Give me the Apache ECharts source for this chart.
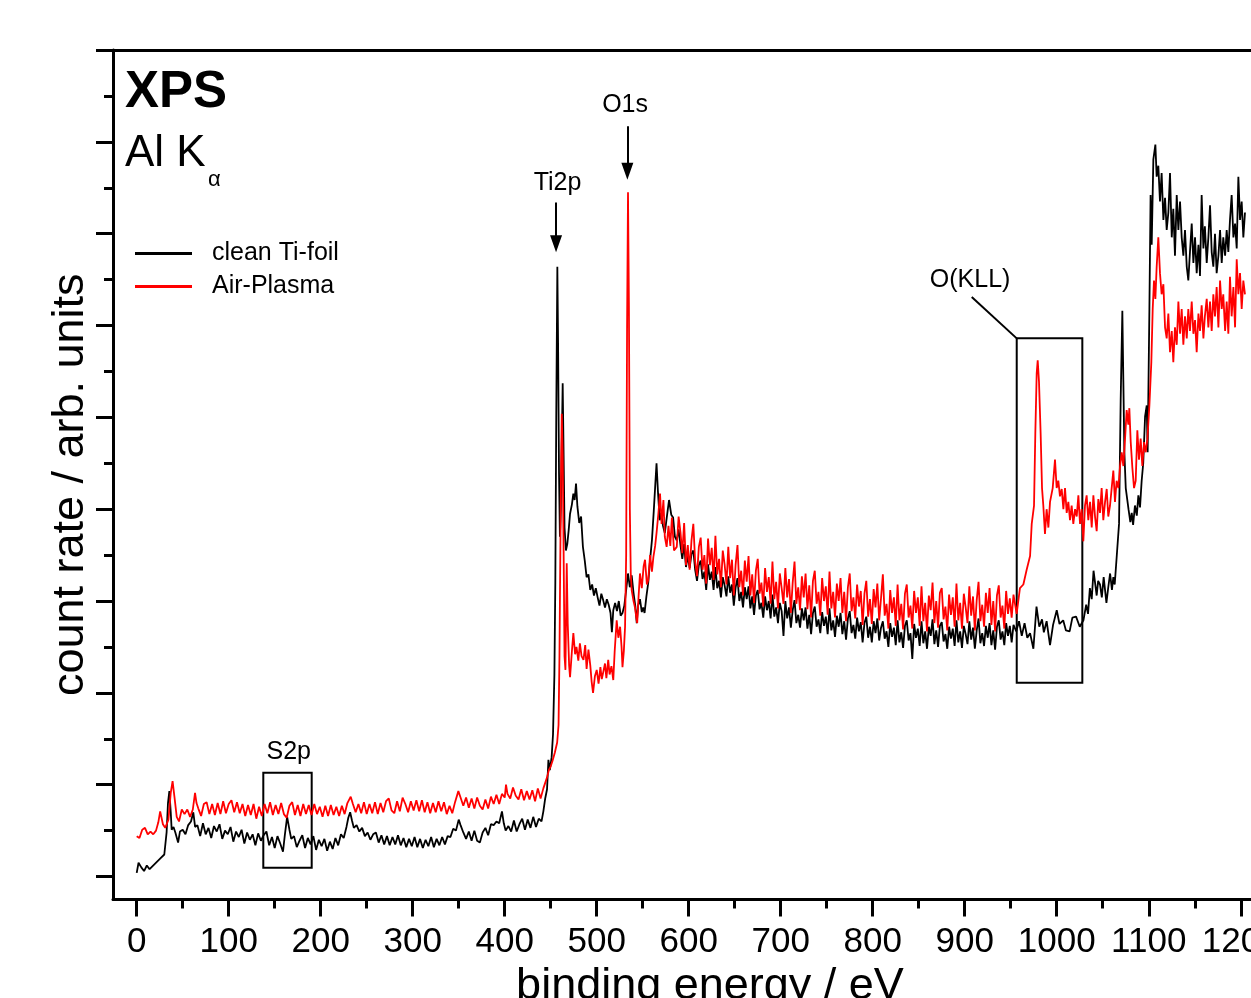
<!DOCTYPE html>
<html><head><meta charset="utf-8">
<script src="https://cdn.jsdelivr.net/npm/echarts@6/dist/echarts.min.js"></script>
<style>html,body{margin:0;padding:0;background:#fff}#c{width:1251px;height:998px}</style>
</head><body><div id="c"></div>
<script>
// ---- data (binding energy eV, count rate arb. units) ----
const seriesNames = ['clean Ti-foil', 'Air-Plasma'];
const cleanTiFoil = [[0,0.4],[2,1.5],[5,1.0],[8,0.6],[11,1.2],[14,0.8],[17,1.1],[20,1.4],[23,1.7],[26,2.0],[28,1.8],[30,2.4],[31,2.6],[32.5,4.8],[34,8.0],[35.5,9.3],[37,7.0],[38,5.1],[40,5.4],[42,4.8],[45,3.7],[47,4.9],[50,5.1],[53,4.6],[56,5.6],[59,6.0],[61.5,7.0],[63.5,5.4],[66,5.6],[69,4.4],[72,5.8],[75,4.6],[78,5.3],[81,4.2],[84,5.5],[87,4.9],[90,5.7],[93,4.1],[96,5.0],[99,4.6],[102,5.4],[105,3.8],[108,4.9],[111,4.3],[114,5.1],[117,3.6],[120,4.8],[123,4.0],[126,4.6],[129,3.4],[132,4.7],[135,3.9],[138,4.5],[141,4.9],[144,3.4],[147,4.3],[150,3.1],[153,4.4],[156,3.6],[159,2.7],[161,4.5],[163.5,6.5],[166,5.1],[168,4.1],[171,4.4],[174,3.2],[177,3.9],[180,4.5],[183,3.1],[186,4.2],[189,3.5],[192,4.4],[195,2.9],[198,4.0],[201,3.3],[204,4.1],[207,2.8],[210,3.8],[213,3.0],[216,4.2],[219,3.4],[222,4.6],[225,4.2],[228,5.4],[230,6.4],[232,7.0],[234,6.1],[236,5.3],[239,5.6],[242,4.9],[245,5.3],[248,4.4],[251,4.8],[254,4.0],[257,4.6],[260,4.8],[263,3.7],[266,4.5],[269,3.5],[272,4.4],[275,3.4],[278,4.3],[281,3.5],[284,4.5],[287,3.4],[290,4.2],[293,3.2],[296,4.1],[299,3.3],[302,4.3],[305,3.2],[308,4.1],[311,3.1],[314,4.0],[317,3.3],[320,4.3],[323,3.2],[326,4.1],[329,3.4],[332,4.3],[335,3.5],[338,4.4],[341,4.3],[344,5.2],[347,5.0],[350,6.2],[352,5.6],[355,4.8],[358,4.1],[361,4.9],[364,3.9],[367,5.0],[370,3.9],[373,3.7],[376,4.8],[379,5.3],[382,4.5],[385,5.7],[388,5.6],[391,6.0],[394,5.8],[397,7.1],[399,5.8],[401,5.0],[404,5.5],[407,4.9],[410,6.1],[413,4.9],[416,5.7],[419,6.3],[422,5.1],[425,6.2],[428,5.3],[431,6.5],[434,5.4],[437,6.3],[440,6.0],[442,7.1],[444,8.5],[446,9.5],[447.5,12.7],[449,11.6],[451,13.0],[452.5,15.5],[454,22],[455,32],[456,50],[457.2,66.4],[458,58],[459,44],[460,37],[461,40],[462,47],[463,53.7],[464,46],[465,38],[466.5,35.5],[468,36.2],[469.5,37.7],[471,39.5],[473,40.5],[474.6,41.7],[476,41.0],[477.5,42.8],[479,40.3],[481,38.5],[483,39.2],[485,35.9],[487,34.4],[489,32.6],[491,32.9],[493,31.2],[495,31.8],[497,30.6],[499,31.4],[501,30.4],[503,29.5],[505,30.8],[507,30.1],[509,29.3],[511,30.2],[513,29.6],[515,28.7],[516.5,26.6],[518,29.0],[520,29.8],[522,28.9],[524,30.0],[526,28.4],[528,28.7],[530,29.5],[532,31.2],[534,33.0],[536,31.5],[538,32.8],[540,30.9],[542,29.4],[543.5,27.6],[545,29.5],[547,30.2],[549,28.8],[550.5,29.3],[552,28.7],[554,30.5],[556,32.0],[558,34.5],[560,36.6],[562,39.8],[563.5,42.4],[565,45.0],[566.5,42.0],[568.5,38.8],[570,39.6],[572,38.2],[574,37.4],[576,39.0],[578.6,41.0],[581,39.4],[583,39.1],[585,37.0],[587,36.6],[589,37.8],[591,36.1],[593,34.6],[595,36.2],[597,33.7],[599,34.9],[601,33.6],[603,35.1],[605,35.5],[607,33.4],[609,32.2],[611,33.9],[613,34.4],[615,32.4],[617,33.2],[619,31.2],[621,34.0],[623,32.3],[625,33.2],[627,31.2],[629,33.7],[631,31.4],[633,32.2],[635,30.4],[637,32.6],[639,31.7],[641,30.5],[643,32.7],[645,30.9],[647,31.8],[649,29.5],[651,31.5],[653,32.5],[655,30.0],[657,31.0],[659,29.3],[661,31.5],[663,30.2],[665,31.6],[667,29.2],[669,30.5],[671,28.5],[673,30.6],[675,31.2],[677,29.1],[679,29.8],[681,28.2],[683,30.5],[685,29.0],[687,30.0],[689,28.1],[691,30.7],[693,28.3],[695,29.3],[697,27.6],[699,29.8],[701,28.9],[703,26.2],[705,30.0],[707,28.1],[709,29.3],[711,27.1],[713,29.0],[715,30.1],[717,27.6],[719,28.5],[721,27.1],[723,29.2],[725,27.9],[727,29.3],[729,27.0],[731,28.5],[733,26.4],[735,28.7],[737,29.4],[739,27.2],[741,28.0],[743,26.5],[745,28.8],[747,27.3],[749,28.3],[751,26.4],[753,29.2],[755,26.8],[757,27.9],[759,26.1],[761,28.4],[763,27.2],[765,28.7],[767,26.4],[769,27.8],[771,25.8],[773,28.1],[775,28.9],[777,26.5],[779,27.4],[781,25.9],[783,28.2],[785,26.7],[787,27.7],[789,25.5],[791,27.6],[793,28.3],[795,26.0],[797,27.2],[799,25.5],[801,27.8],[803,26.5],[805,28.1],[807,25.7],[809,27.1],[811,27.8],[813,25.9],[815,26.7],[817,25.0],[819,27.6],[821,26.1],[823,27.1],[825,25.2],[827,27.9],[829,25.5],[831,26.6],[833,24.9],[835,27.3],[837,27.9],[839,25.7],[841,26.5],[843,23.7],[845,27.5],[847,26.0],[849,27.0],[851,25.1],[853,27.8],[855,25.4],[857,26.7],[859,24.8],[861,27.2],[863,26.2],[865,28.0],[867,25.3],[869,26.8],[871,25.0],[873,27.3],[875,27.7],[877,25.6],[879,26.4],[881,24.8],[883,27.2],[885,25.9],[887,27.0],[889,25.1],[891,27.9],[893,25.5],[895,26.7],[897,24.9],[899,27.3],[901,26.4],[903,25.3],[905,27.8],[907,25.8],[909,27.1],[911,24.8],[913,26.8],[915,28.1],[917,25.4],[919,26.5],[921,25.1],[923,27.3],[925,26.0],[927,27.6],[929,25.2],[931,26.8],[933,24.7],[935,27.2],[937,27.9],[939,25.8],[941,26.7],[943,25.2],[945,27.6],[947,26.2],[949,27.3],[951,25.5],[953,27.4],[956,26.7],[959,27.8],[962,26.2],[965,27.6],[968,26.0],[971,26.5],[974.6,24.8],[978,29.4],[981,27.2],[984,28.0],[986,26.6],[989,27.8],[992.7,25.2],[996,27.4],[1000,29.0],[1003,27.5],[1007,27.9],[1010,26.8],[1014,26.7],[1017,28.2],[1021,28.3],[1025,27.2],[1029,27.9],[1032,29.6],[1034,28.6],[1036,31.4],[1038,30.2],[1040,33.3],[1043.4,30.6],[1045,32.2],[1047,31.8],[1049,30.4],[1051,32.6],[1054,29.8],[1056,31.5],[1058,33.0],[1060,31.2],[1061.5,32.6],[1063,31.8],[1065,34.6],[1067.7,38.4],[1069.5,52],[1071.3,61.6],[1072.4,53.9],[1073.5,46.2],[1075,42.3],[1078,40.0],[1080,38.6],[1081.5,39.6],[1083,38.3],[1085,40.4],[1087,39.3],[1088.7,41.5],[1090.5,40.2],[1092.3,43.1],[1094,45.0],[1096,50.1],[1097.8,51.3],[1098.8,46.2],[1100.7,61.8],[1102,74.2],[1103.2,68.8],[1105,78.1],[1107.2,79.7],[1108.6,76.2],[1110.4,77.4],[1112.2,73.5],[1114,76.6],[1115.9,71.5],[1117.7,73.9],[1119.5,70.4],[1121.3,72.3],[1123.1,76.6],[1125,69.6],[1126.7,72.7],[1128.5,67.6],[1130.4,74.2],[1132.2,70.4],[1134,73.5],[1135.8,69.6],[1137.6,67.6],[1139.4,70.4],[1141.3,66.4],[1143,64.9],[1144.8,68.0],[1146.7,71.1],[1148.5,66.8],[1150.3,69.6],[1152.1,65.7],[1154,68.8],[1155.7,65.4],[1157.5,74.2],[1159.4,68.4],[1161,70.8],[1163,66.8],[1164.8,69.6],[1166.6,73.1],[1168.4,68.0],[1170.2,66.4],[1172,70.0],[1173.8,65.7],[1175.7,67.6],[1177.5,70.4],[1179.3,66.8],[1181,69.6],[1183,67.6],[1184.7,70.4],[1186.5,68.0],[1188.3,71.5],[1190.1,74.2],[1192,69.6],[1193.8,71.1],[1195.6,68.4],[1197.4,76.2],[1199.2,71.5],[1201,73.5],[1202.8,69.6],[1204.6,72.3]];
const airPlasma = [[0,4.4],[3,4.2],[6,5.1],[9,5.3],[12,4.6],[15,4.9],[18,4.6],[21,5.0],[23.5,5.9],[25.5,7.1],[27,6.4],[28.5,5.7],[31,5.3],[34.5,6.2],[37,9.1],[39,10.4],[41,8.7],[43.5,6.5],[46,6.0],[49,7.3],[52,6.8],[55,7.3],[58,6.5],[61,7.3],[63.4,9.1],[65,8.0],[67,7.4],[70,6.6],[73,7.9],[76,8.1],[79,6.8],[82,7.9],[85,6.7],[88,8.0],[91,6.8],[94,8.2],[97,6.9],[100,7.9],[103,8.3],[106,7.0],[109,8.1],[112,6.9],[115,7.9],[118,6.6],[121,7.8],[124,6.7],[127,7.9],[130,6.3],[133,7.6],[136,6.6],[139,7.9],[142,6.9],[145,8.1],[148,6.7],[151,7.8],[154,6.8],[157,8.0],[160,6.8],[163,6.4],[166,7.7],[169,8.1],[172,6.7],[175,7.8],[178,6.6],[181,7.9],[184,6.8],[187,7.8],[190,6.7],[193,7.9],[196,6.8],[199,7.6],[202,6.5],[205,7.7],[208,6.6],[211,7.8],[214,6.7],[217,7.6],[220,6.6],[223,7.7],[226,6.8],[229,8.0],[232.6,8.7],[235,7.9],[238,7.0],[241,7.9],[244,6.9],[247,8.1],[250,6.8],[253,7.9],[256,6.9],[259,8.1],[262,6.8],[265,8.0],[268,7.0],[271,8.2],[274,8.5],[277,7.2],[280,6.9],[283,8.2],[286,7.1],[289,8.6],[292,7.9],[295,7.0],[298,8.2],[301,7.2],[304,8.3],[307,7.1],[310,8.3],[313,7.0],[316,8.1],[319,6.9],[322,8.0],[325,7.0],[328,8.2],[331,7.1],[334,8.1],[337,6.8],[340,7.7],[343,6.9],[346,8.1],[349.6,9.3],[352,8.6],[355,7.7],[358,8.6],[361,7.5],[364,8.5],[367,7.4],[370,8.6],[373,7.7],[376,7.3],[379,8.4],[382,7.4],[385,8.7],[388,7.9],[391,8.9],[394,7.9],[397,9.0],[400,8.6],[401.4,10.0],[403,9.0],[406,8.5],[409,9.7],[412,8.8],[415,8.4],[418,9.5],[421,8.3],[424,9.3],[427,8.4],[430,9.4],[433,8.2],[436,9.6],[439,8.5],[442,9.6],[444,9.8],[446,10.8],[448,11.6],[450,12.0],[452,12.6],[454.5,13.5],[457,14.6],[458.5,16.5],[459.5,24],[460.5,36],[461.3,45],[462,50.4],[463,46],[464,35.5],[465,24],[466,22.5],[467.4,34.1],[468.5,27.5],[470,23.0],[471,21.7],[473,24.5],[474.6,26.5],[476.5,24.2],[478,25.0],[480,23.5],[481.7,25.4],[483.5,24.0],[485.6,23.6],[487.5,25.2],[489,22.6],[491,24.7],[493,23.0],[494.5,21.2],[496,20.0],[498,21.8],[500,22.5],[502,21.0],[504,22.8],[505.5,21.5],[507,22.2],[509,23.2],[510.5,21.6],[512.5,23.6],[514,22.0],[516,22.9],[518,21.4],[519.5,24.5],[521.7,27.9],[523.5,26.0],[525.4,27.2],[527,25.0],[528,22.8],[529.5,24.6],[530.8,27.2],[532,35],[533,60],[534,74.5],[535,62],[536,40],[537,33],[538,31.2],[540,30.0],[541.6,29.3],[543,28.2],[544,27.6],[545.5,30.5],[547,33.0],[549,31.4],[551,33.8],[552.5,34.5],[554.5,31.8],[556,32.3],[558,35.0],[560,33.2],[561.6,34.8],[563.5,36.0],[565,37.4],[567,39.5],[568.8,41.7],[570.5,38.4],[572.5,41.0],[574,37.0],[576,35.9],[578,38.2],[580,36.0],[581.7,39.1],[584,35.5],[587,35.9],[589,39.2],[591,37.5],[593,35.2],[595,38.5],[597,33.9],[599,36.1],[601,33.4],[603,36.6],[605,38.4],[607,34.3],[609,32.7],[611,35.9],[613,36.9],[615,33.4],[617,35.0],[619,31.9],[621,36.8],[623,33.9],[625,35.8],[627,32.3],[629,37.1],[631,32.9],[633,34.6],[635,31.5],[637,35.5],[639,34.0],[641,31.8],[643,35.9],[645,32.5],[647,34.5],[649,30.6],[651,34.0],[653,36.1],[655,31.5],[657,33.3],[659,30.6],[661,34.4],[663,32.1],[665,34.9],[667,30.6],[669,32.9],[671,29.8],[673,33.3],[675,34.6],[677,30.8],[679,32.0],[681,29.4],[683,33.6],[685,31.0],[687,32.6],[689,29.7],[691,34.3],[693,30.2],[695,32.1],[697,29.2],[699,33.0],[701,31.4],[703,29.7],[705,33.6],[707,30.4],[709,32.4],[711,28.7],[713,32.0],[715,34.3],[717,29.7],[719,31.5],[721,29.0],[723,32.7],[725,30.4],[727,33.0],[729,29.1],[731,31.7],[733,28.2],[735,32.2],[737,33.3],[739,29.7],[741,31.0],[743,28.4],[745,32.5],[747,30.0],[749,31.6],[751,28.5],[753,33.2],[755,29.2],[757,31.0],[759,28.2],[761,31.9],[763,30.0],[765,32.5],[767,28.7],[769,31.0],[771,27.8],[773,31.5],[775,33.0],[777,28.9],[779,30.4],[781,28.1],[783,31.8],[785,29.4],[787,31.1],[789,27.4],[791,30.8],[793,32.2],[795,28.3],[797,30.2],[799,27.5],[801,31.3],[803,29.3],[805,31.9],[807,27.9],[809,30.3],[811,32.9],[813,28.4],[815,29.7],[817,27.0],[819,31.2],[821,28.7],[823,30.4],[825,27.3],[827,31.8],[829,27.9],[831,29.7],[833,26.9],[835,30.8],[837,31.8],[839,28.2],[841,29.5],[843,27.0],[845,31.1],[847,28.7],[849,30.4],[851,27.3],[853,31.6],[855,27.8],[857,29.8],[859,26.7],[861,30.6],[863,29.0],[865,32.0],[867,27.6],[869,30.0],[871,27.1],[873,30.9],[875,31.4],[877,28.0],[879,29.4],[881,26.8],[883,30.7],[885,28.5],[887,30.4],[889,27.2],[891,31.9],[893,27.9],[895,29.8],[897,27.0],[899,30.8],[901,29.3],[903,27.6],[905,31.6],[907,28.4],[909,30.5],[911,26.8],[913,30.1],[915,32.1],[917,27.8],[919,29.6],[921,27.2],[923,30.9],[925,28.7],[927,31.4],[929,27.4],[931,30.0],[933,26.7],[935,30.6],[937,31.7],[939,28.2],[941,29.5],[943,27.0],[945,31.1],[947,28.6],[949,30.3],[951,28.2],[953,30.7],[956.4,28.6],[960,31.4],[963.7,31.8],[967.3,33.4],[971,34.9],[972.8,38.4],[975.3,40.4],[976.7,48.2],[978.2,54.8],[979.3,56.2],[980.7,53.9],[982.5,48.2],[984,42.3],[985.4,40.4],[987.2,37.3],[989,40.0],[990.9,38.0],[992.7,40.8],[995.6,42.3],[998.1,45.4],[999.9,42.3],[1001.7,43.1],[1003.5,41.4],[1005.4,42.2],[1007.2,40.0],[1009,42.3],[1010.8,39.6],[1012.6,40.8],[1014.4,38.8],[1016.2,40.4],[1018,38.4],[1019.9,40.0],[1021.7,39.2],[1023.5,41.5],[1025.3,38.4],[1027.1,40.0],[1028.9,36.5],[1030.7,40.4],[1032.5,41.5],[1034.3,38.8],[1036.2,40.8],[1038,38.0],[1039.8,41.5],[1041.6,39.2],[1043.4,37.6],[1045.2,41.1],[1047,39.6],[1048.8,42.3],[1050.6,38.8],[1052.5,40.8],[1054.3,42.2],[1056,39.2],[1057.9,40.4],[1059.7,42.3],[1061.5,44.2],[1063.3,40.8],[1065.1,43.1],[1067,42.3],[1068.8,44.7],[1070.6,46.2],[1072.4,44.7],[1074.2,47.6],[1076,50.8],[1077.8,49.2],[1078.9,51.0],[1080.4,47.3],[1082.2,44.5],[1084,42.3],[1085.8,43.1],[1087.6,48.6],[1089.4,45.4],[1091.2,47.7],[1093,44.7],[1094.9,47.3],[1096.7,46.2],[1098.5,47.6],[1100.7,51.3],[1102.8,56.0],[1104.3,61.8],[1105.7,64.9],[1107.2,62.9],[1108.6,66.4],[1110.4,69.6],[1112.2,65.7],[1114,63.4],[1115.9,64.5],[1117.7,59.8],[1119.5,58.6],[1121.3,61.3],[1123.1,57.1],[1125,59.4],[1126.7,56.0],[1128.5,59.8],[1130.4,57.9],[1132.2,62.6],[1134,59.1],[1135.8,61.8],[1137.6,57.9],[1139.4,61.0],[1141.3,58.6],[1143,61.8],[1144.8,59.4],[1146.7,62.6],[1148.5,59.1],[1150.3,60.6],[1152.1,57.1],[1154,61.3],[1155.7,59.4],[1157.5,62.2],[1159.4,58.6],[1161,61.0],[1163,62.9],[1164.8,59.8],[1166.6,62.6],[1168.4,59.4],[1170.2,63.4],[1172,61.0],[1173.8,64.2],[1175.7,59.8],[1177.5,64.9],[1179.3,61.8],[1181,63.4],[1183,59.4],[1184.7,62.6],[1186.5,59.1],[1188.3,65.3],[1190.1,61.0],[1192,64.2],[1193.8,59.8],[1195.6,67.2],[1197.4,63.4],[1199.2,65.7],[1201,61.8],[1202.8,64.9],[1204.6,63.4]];
const xMajorTicks = [0,100,200,300,400,500,600,700,800,900,1000,1100,1200];
const xMinorTicks = [50,150,250,350,450,550,650,750,850,950,1050,1150,1250];
const yMajorTicks = [0,10,20,30,40,50,60,70,80,90];
const yMinorTicks = [5,15,25,35,45,55,65,75,85];
const peakLabels = ['Ti2p','O1s','S2p','O(KLL)'];

const FONT = '"Liberation Sans", Arial, Helvetica, sans-serif';
const X_MIN = -25.76, X_MAX = 1272, Y_MIN = -2.5, Y_MAX = 90;
const AX = {color:'#000', width:3};

const chart = echarts.init(document.getElementById('c'), null, {renderer:'canvas'});
const plainAxis = (extra) => Object.assign({
  type:'value', splitLine:{show:false}, axisLabel:{show:false},
  axisLine:{show:false, onZero:false}, axisTick:{show:false}
}, extra);

chart.setOption({
  animation:false,
  backgroundColor:'#fff',
  textStyle:{fontFamily:FONT, color:'#000'},
  grid:{left:113, right:-56, top:50, bottom:98.5, containLabel:false, outerBoundsMode:'none'},
  legend:{
    data:seriesNames, left:135, top:241, orient:'vertical', padding:0,
    icon:'rect', itemWidth:57, itemHeight:3, itemGap:8, selectedMode:false,
    textStyle:{fontSize:25, color:'#000', fontFamily:FONT, padding:[0,0,0,15]}
  },
  xAxis:[
    plainAxis({min:X_MIN, max:X_MAX, position:'bottom',
      axisLine:{show:true, onZero:false, lineStyle:AX},
      axisTick:{show:true, customValues:xMajorTicks, length:17, inside:false, lineStyle:AX},
      axisLabel:{show:true, customValues:xMajorTicks, fontSize:35, color:'#000', margin:25, fontFamily:FONT,
        formatter:v=>String(v)},
      name:'binding energy / eV', nameLocation:'middle', nameGap:61,
      nameTextStyle:{fontSize:45, color:'#000', fontFamily:FONT}}),
    plainAxis({min:X_MIN, max:X_MAX, position:'bottom',
      axisTick:{show:true, customValues:xMinorTicks, length:9, inside:false, lineStyle:AX}}),
    plainAxis({min:X_MIN, max:X_MAX, position:'top',
      axisLine:{show:true, onZero:false, lineStyle:AX}})
  ],
  yAxis:[
    plainAxis({min:Y_MIN, max:Y_MAX, position:'left',
      axisLine:{show:true, onZero:false, lineStyle:AX},
      axisTick:{show:true, customValues:yMajorTicks, length:17, inside:false, lineStyle:AX},
      name:'count rate / arb. units', nameLocation:'middle', nameRotate:90, nameGap:20,
      nameTextStyle:{fontSize:45, color:'#000', fontFamily:FONT, padding:[0,20,0,0]}}),
    plainAxis({min:Y_MIN, max:Y_MAX, position:'left',
      axisTick:{show:true, customValues:yMinorTicks, length:9, inside:false, lineStyle:AX}})
  ],
  graphic:[
    {type:'text', left:125, top:67, style:{text:'XPS', font:'bold 51px '+FONT, fill:'#000'}},
    {type:'text', left:125, top:132, style:{text:'Al K', font:'44px '+FONT, fill:'#000'}},
    {type:'text', left:208, top:169, style:{text:'\u03B1', font:'22px '+FONT, fill:'#000'}}
  ],
  series:[
    {
      name:seriesNames[0], type:'line', data:cleanTiFoil, xAxisIndex:0, yAxisIndex:0,
      symbol:'none', showSymbol:false, lineStyle:{color:'#000', width:1.8}, itemStyle:{color:'#000'},
      z:2,
      markArea:{silent:true, itemStyle:{color:'rgba(0,0,0,0)', borderColor:'#000', borderWidth:2},
        data:[[{coord:[137.6,11.3]},{coord:[190.2,0.95]}],[{coord:[956.5,58.6]},{coord:[1027.8,21.1]}]]},
      markLine:{silent:true, symbol:['none','triangle'], symbolSize:[12,17],
        lineStyle:{color:'#000', width:2, type:'solid'}, label:{show:false},
        data:[
          [{coord:[455.8,73.4]},{coord:[455.8,68.9]}],
          [{coord:[533.3,81.7]},{coord:[533.3,76.8]}],
          [{coord:[907.6,63.1], symbol:'none'},{coord:[956.5,58.6], symbol:'none'}]
        ]},
      markPoint:{silent:true, symbol:'rect', symbolSize:1, itemStyle:{color:'rgba(0,0,0,0)'},
        label:{show:true, position:'inside', color:'#000', fontSize:25, fontFamily:FONT, formatter:p=>p.name},
        data:[
          {name:peakLabels[0], coord:[457.4,75.5]},
          {name:peakLabels[1], coord:[530.8,84.0]},
          {name:peakLabels[2], coord:[165.2,13.5]},
          {name:peakLabels[3], coord:[905.8,64.9]}
        ]}
    },
    {
      name:seriesNames[1], type:'line', data:airPlasma, xAxisIndex:0, yAxisIndex:0,
      symbol:'none', showSymbol:false, lineStyle:{color:'#ff0000', width:1.8}, itemStyle:{color:'#ff0000'},
      z:3
    }
  ]
});
</script></body></html>
